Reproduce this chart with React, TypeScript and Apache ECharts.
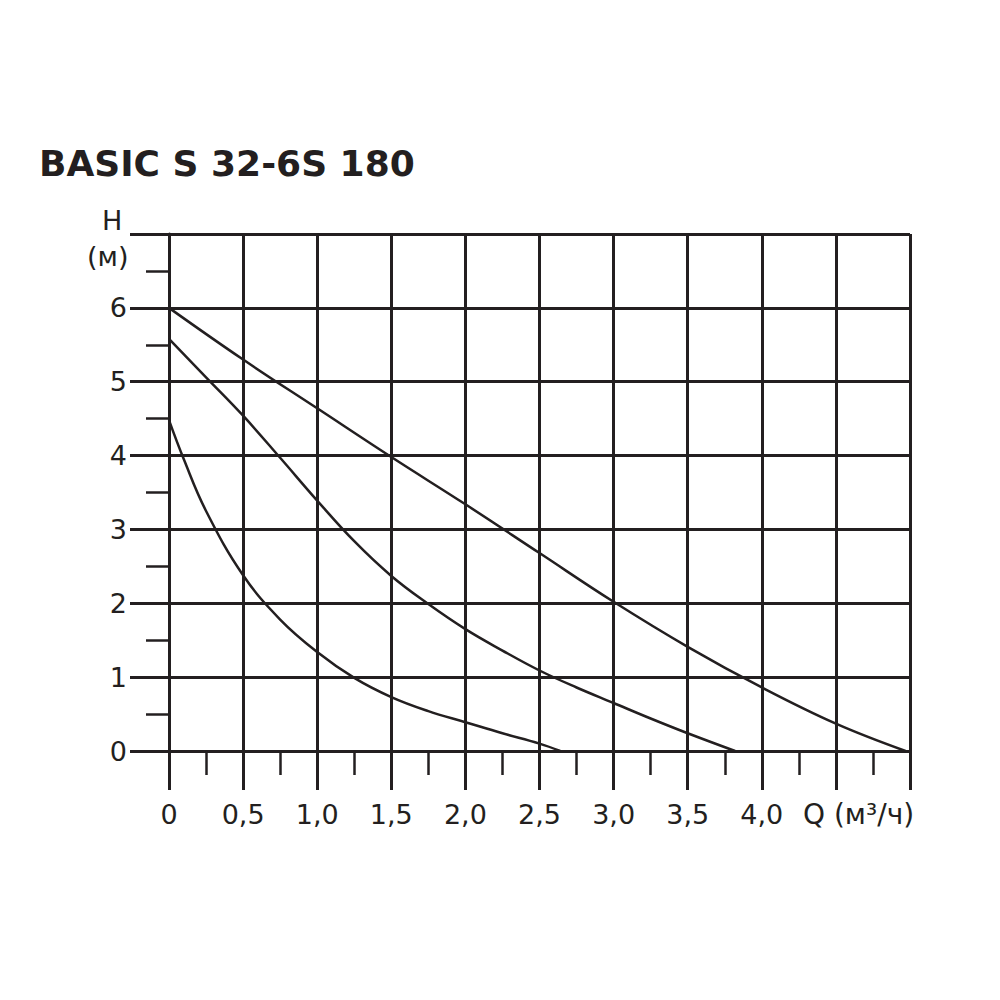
import React, { useEffect, useRef } from "react";
import * as echarts from "echarts";

const titleText = "BASIC S 32-6S 180";
const yAxisName = "H";
const yAxisUnit = "(м)";
const xAxisName = "Q (м³/ч)";

const topQ = [0, 0.5, 1.0, 1.5, 2.0, 2.5, 3.0, 3.5, 4.0, 4.5, 4.97];
const topH = [6.0, 5.3, 4.64, 3.98, 3.34, 2.68, 2.02, 1.41, 0.86, 0.37, 0];

const midQ = [0, 0.25, 0.5, 0.75, 1.0, 1.25, 1.5, 1.75, 2.0, 2.25, 2.5, 2.75, 3.0, 3.25, 3.5, 3.82];
const midH = [5.58, 5.06, 4.54, 3.97, 3.39, 2.84, 2.37, 1.99, 1.65, 1.36, 1.09, 0.86, 0.65, 0.44, 0.24, 0];

const lowQ = [0, 0.1, 0.25, 0.5, 0.75, 1.0, 1.25, 1.5, 1.75, 2.0, 2.25, 2.5, 2.64];
const lowH = [4.48, 3.95, 3.25, 2.38, 1.78, 1.34, 0.99, 0.73, 0.54, 0.39, 0.24, 0.1, 0];

const INK = "#231f20";
const FONT = "DejaVu Sans";

const zip = (q: number[], h: number[]) => q.map((v, i) => [v, h[i]]);

export default function App() {
  const ref = useRef<HTMLDivElement>(null);
  useEffect(() => {
    if (!ref.current) return;
    const chart = echarts.init(ref.current, null, { renderer: "svg" });
    const curve = (name: string, q: number[], h: number[]) => ({
      name,
      type: "line",
      data: zip(q, h),
      smooth: 0.4,
      symbol: "none",
      lineStyle: { color: INK, width: 2.5 },
      z: 5,
    });
    chart.setOption({
      animation: false,
      backgroundColor: "#ffffff",
      title: {
        text: titleText,
        left: 34,
        top: 140,
        textStyle: {
          fontFamily: FONT,
          fontWeight: "bold",
          fontSize: 36,
          color: INK,
        },
      },
      grid: { left: 169, right: 90, top: 234, bottom: 249 },
      xAxis: {
        type: "value",
        min: 0,
        max: 5,
        interval: 0.5,
        axisLine: { show: true, lineStyle: { color: INK, width: 3 } },
        axisTick: { show: true, length: 39, lineStyle: { color: INK, width: 3 } },
        minorTick: { show: true, splitNumber: 2, length: 24, lineStyle: { color: INK, width: 2.5 } },
        splitLine: { show: true, lineStyle: { color: INK, width: 3 } },
        axisLabel: {
          margin: 50,
          fontFamily: FONT,
          fontSize: 27,
          color: INK,
          formatter: (v: number) =>
            v === 0 ? "0" : v <= 4 ? v.toFixed(1).replace(".", ",") : "",
        },
      },
      yAxis: {
        type: "value",
        min: 0,
        max: 7,
        interval: 1,
        axisLine: { show: true, lineStyle: { color: INK, width: 3 } },
        axisTick: { show: true, length: 39, lineStyle: { color: INK, width: 3 } },
        minorTick: { show: true, splitNumber: 2, length: 23, lineStyle: { color: INK, width: 2.5 } },
        splitLine: { show: true, lineStyle: { color: INK, width: 3 } },
        axisLabel: {
          margin: 42,
          fontFamily: FONT,
          fontSize: 27,
          color: INK,
          formatter: (v: number) => (v >= 7 ? "" : String(v)),
        },
      },
      graphic: [
        {
          type: "text",
          left: 102,
          top: 207,
          style: { text: yAxisName, font: `27px '${FONT}'`, fill: INK },
        },
        {
          type: "text",
          left: 87,
          top: 243,
          style: { text: yAxisUnit, font: `27px '${FONT}'`, fill: INK },
        },
        {
          type: "text",
          left: 803,
          top: 800,
          style: { text: xAxisName, font: `28px '${FONT}'`, fill: INK },
        },
      ],
      series: [
        curve("top", topQ, topH),
        curve("mid", midQ, midH),
        curve("low", lowQ, lowH),
      ],
    });
    return () => chart.dispose();
  }, []);
  return (
    <div
      ref={ref}
      style={{ position: "fixed", left: 0, top: 0, width: 1000, height: 1000 }}
    />
  );
}
